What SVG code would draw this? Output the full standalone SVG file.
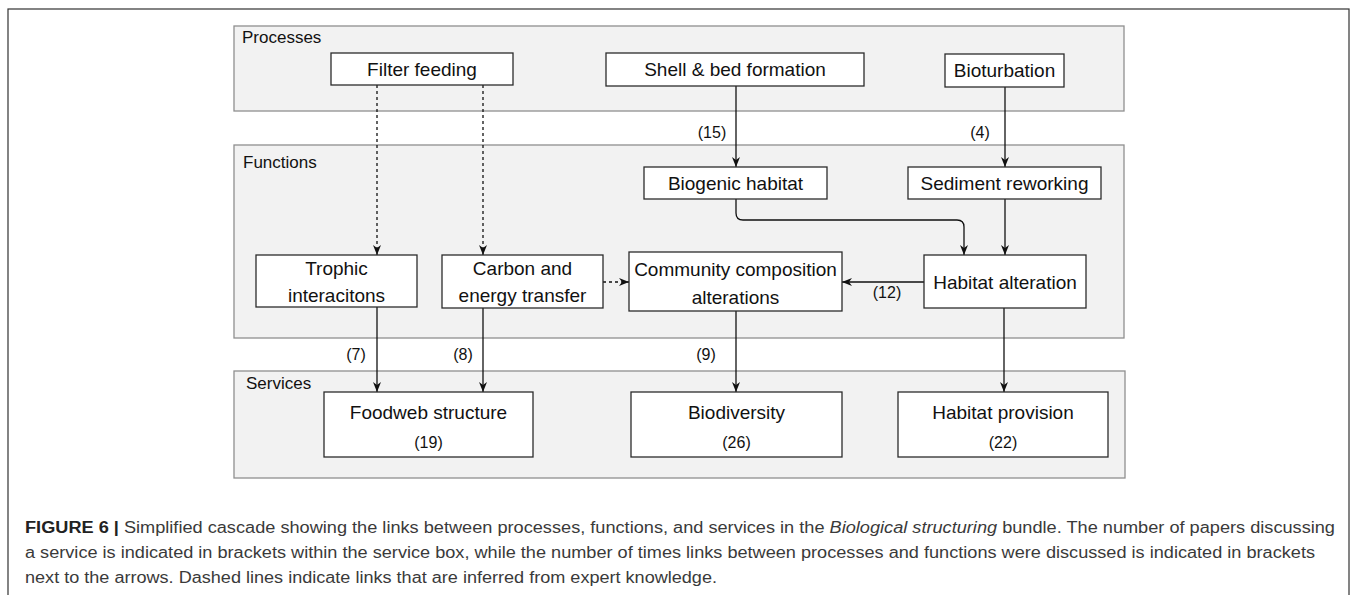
<svg xmlns="http://www.w3.org/2000/svg" width="1357" height="595" viewBox="0 0 1357 595">
  <style>
    .frame { fill: #ffffff; stroke: #333333; stroke-width: 1.2; }
    .lane { fill: #f2f2f2; stroke: #8f8f8f; stroke-width: 1.3; }
    .lane-label { font-family: "Liberation Sans", Arial, sans-serif; font-size: 17px; fill: #111111; }
    .box { fill: #ffffff; stroke: #2b2b2b; stroke-width: 1.3; }
    .label { font-family: "Liberation Sans", Arial, sans-serif; font-size: 19px; fill: #111111; text-anchor: middle; }
    .count { font-family: "Liberation Sans", Arial, sans-serif; font-size: 16px; fill: #111111; text-anchor: middle; }
    .edge { fill: none; stroke: #111111; stroke-width: 1.3; }
    .dashed { stroke-dasharray: 3 3; }
    .caption { font-family: "Liberation Sans", Arial, sans-serif; font-size: 16px; fill: #3a3a3a; }
  </style>
  <defs>
    <marker id="arrow" markerWidth="10" markerHeight="10" refX="10" refY="5" orient="auto" markerUnits="userSpaceOnUse">
      <path d="M0,1 L10,5 L0,9 L3,5 z" fill="#111111"/>
    </marker>
  </defs>

  <!-- figure frame -->
  <rect class="frame" x="8" y="9" width="1341" height="600"/>

  <!-- swimlanes -->
  <g id="lane-processes">
    <rect class="lane" x="234" y="26" width="890" height="85"/>
    <text class="lane-label" x="242" y="43">Processes</text>
  </g>
  <g id="lane-functions">
    <rect class="lane" x="234" y="145" width="890" height="193"/>
    <text class="lane-label" x="243" y="168">Functions</text>
  </g>
  <g id="lane-services">
    <rect class="lane" x="234" y="371" width="891" height="107"/>
    <text class="lane-label" x="246" y="389">Services</text>
  </g>

  <!-- connectors -->
  <g id="connectors">
    <path class="edge dashed" d="M377,85 V255" marker-end="url(#arrow)"/>
    <path class="edge dashed" d="M483,85 V255" marker-end="url(#arrow)"/>
    <path class="edge" d="M736,86 V167" marker-end="url(#arrow)"/>
    <path class="edge" d="M1005,87 V167" marker-end="url(#arrow)"/>
    <path class="edge" d="M736,199 V213 Q736,220 743,220 H957 Q964,220 964,227 V255" marker-end="url(#arrow)"/>
    <path class="edge" d="M1005,199 V255" marker-end="url(#arrow)"/>
    <path class="edge" d="M924,282 H842" marker-end="url(#arrow)"/>
    <path class="edge dashed" d="M603,282 H629" marker-end="url(#arrow)"/>
    <path class="edge" d="M377,307 V392" marker-end="url(#arrow)"/>
    <path class="edge" d="M483,308 V392" marker-end="url(#arrow)"/>
    <path class="edge" d="M736,311 V392" marker-end="url(#arrow)"/>
    <path class="edge" d="M1004,308 V392" marker-end="url(#arrow)"/>
    <text class="count" x="712" y="138">(15)</text>
    <text class="count" x="980" y="138">(4)</text>
    <text class="count" x="887" y="298">(12)</text>
    <text class="count" x="356" y="360">(7)</text>
    <text class="count" x="463" y="360">(8)</text>
    <text class="count" x="706" y="360">(9)</text>
  </g>

  <!-- processes -->
  <g id="filter-feeding">
    <rect class="box" x="331" y="53" width="182" height="32"/>
    <text class="label" x="422" y="76">Filter feeding</text>
  </g>
  <g id="shell-bed-formation">
    <rect class="box" x="606" y="53" width="258" height="33"/>
    <text class="label" x="735" y="76">Shell &amp; bed formation</text>
  </g>
  <g id="bioturbation">
    <rect class="box" x="945" y="54" width="119" height="33"/>
    <text class="label" x="1004.5" y="77">Bioturbation</text>
  </g>

  <!-- functions -->
  <g id="biogenic-habitat">
    <rect class="box" x="644" y="167" width="183" height="32"/>
    <text class="label" x="735.5" y="190">Biogenic habitat</text>
  </g>
  <g id="sediment-reworking">
    <rect class="box" x="908" y="167" width="193" height="32"/>
    <text class="label" x="1004.5" y="190">Sediment reworking</text>
  </g>
  <g id="trophic-interactions">
    <rect class="box" x="256" y="255" width="161" height="52"/>
    <text class="label" x="336.5" y="275">Trophic</text>
    <text class="label" x="336.5" y="302">interacitons</text>
  </g>
  <g id="carbon-energy-transfer">
    <rect class="box" x="442" y="255" width="161" height="53"/>
    <text class="label" x="522.5" y="275">Carbon and</text>
    <text class="label" x="522.5" y="302">energy transfer</text>
  </g>
  <g id="community-composition">
    <rect class="box" x="629" y="252" width="213" height="59"/>
    <text class="label" x="735.5" y="276">Community composition</text>
    <text class="label" x="735.5" y="304">alterations</text>
  </g>
  <g id="habitat-alteration">
    <rect class="box" x="924" y="255" width="162" height="53"/>
    <text class="label" x="1005" y="289">Habitat alteration</text>
  </g>

  <!-- services -->
  <g id="foodweb-structure">
    <rect class="box" x="324" y="392" width="209" height="65"/>
    <text class="label" x="428.5" y="419">Foodweb structure</text>
    <text class="count" x="428.5" y="448">(19)</text>
  </g>
  <g id="biodiversity">
    <rect class="box" x="631" y="392" width="211" height="65"/>
    <text class="label" x="736.5" y="419">Biodiversity</text>
    <text class="count" x="736.5" y="448">(26)</text>
  </g>
  <g id="habitat-provision">
    <rect class="box" x="898" y="392" width="210" height="65"/>
    <text class="label" x="1003" y="419">Habitat provision</text>
    <text class="count" x="1003" y="448">(22)</text>
  </g>

  <!-- caption -->
  <g id="caption">
    <text class="caption" x="25" y="533" textLength="1310" lengthAdjust="spacingAndGlyphs"><tspan font-weight="bold" fill="#222222">FIGURE 6 | </tspan>Simplified cascade showing the links between processes, functions, and services in the <tspan font-style="italic">Biological structuring</tspan> bundle. The number of papers discussing</text>
    <text class="caption" x="25" y="558" textLength="1290" lengthAdjust="spacingAndGlyphs">a service is indicated in brackets within the service box, while the number of times links between processes and functions were discussed is indicated in brackets</text>
    <text class="caption" x="25" y="583" textLength="692" lengthAdjust="spacingAndGlyphs">next to the arrows. Dashed lines indicate links that are inferred from expert knowledge.</text>
  </g>
</svg>
